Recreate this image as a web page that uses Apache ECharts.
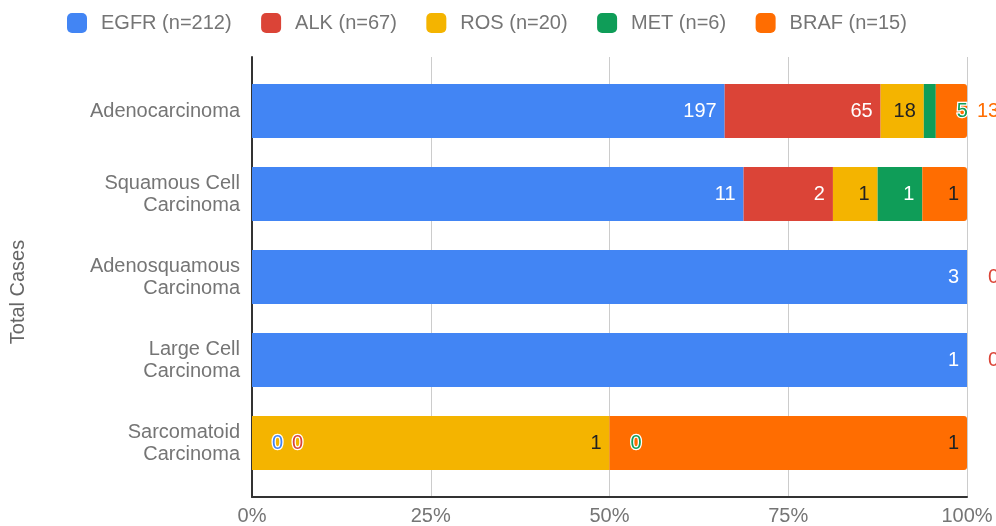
<!DOCTYPE html>
<html>
<head>
<meta charset="utf-8">
<script src="https://cdn.jsdelivr.net/npm/echarts@6/dist/echarts.min.js"></script>
<style>
  html, body { margin: 0; padding: 0; background: #fff; }
  #chart { width: 996px; height: 526px; }
</style>
</head>
<body>
<div id="chart"></div>
<script>
// Mutation counts per histological subtype
const categories = [
  'Adenocarcinoma',
  'Squamous Cell\nCarcinoma',
  'Adenosquamous\nCarcinoma',
  'Large Cell\nCarcinoma',
  'Sarcomatoid\nCarcinoma'
];
const genes = ['EGFR', 'ALK', 'ROS', 'MET', 'BRAF'];
const egfr = [197, 11, 3, 1, 0];
const alk  = [65, 2, 0, 0, 0];
const ros  = [18, 1, 0, 0, 1];
const met  = [5, 1, 0, 0, 0];
const braf = [13, 1, 0, 0, 1];
const xTicks = [0, 25, 50, 75, 100];

const counts = [egfr, alk, ros, met, braf];
const colors = ['#4285F4', '#DB4437', '#F4B400', '#0F9D58', '#FF6D01'];
const insideText = ['#ffffff', '#ffffff', '#222222', '#ffffff', '#222222'];
const font = 'Liberation Sans, Arial, sans-serif';

// Row totals for the 100% stacking
const totals = categories.map((_, i) => counts.reduce((s, arr) => s + arr[i], 0));

// Labels that sit outside their segment (narrow or empty bars): [series, row, distance]
const outsideLabels = [
  [3, 0, 21], [4, 0, 10],
  [0, 4, 20], [1, 4, 40], [3, 4, 21],
  [1, 2, 21], [1, 3, 21]
];
function outsideFor(s, r) {
  const hit = outsideLabels.find(o => o[0] === s && o[1] === r);
  return hit ? hit[2] : null;
}

const series = genes.map((g, s) => ({
  name: `${g} (n=${counts[s].reduce((a, b) => a + b, 0)})`,
  type: 'bar',
  stack: 'total',
  xAxisIndex: 0,
  yAxisIndex: 0,
  barWidth: 54,
  itemStyle: {
    color: colors[s],
    borderRadius: s === genes.length - 1 ? [0, 3, 3, 0] : 0
  },
  data: counts[s].map((v, r) => {
    const item = { value: v / totals[r] * 100, raw: v };
    const dist = outsideFor(s, r);
    if (dist !== null) {
      item.label = {
        show: true, position: 'right', distance: dist,
        color: colors[s], textBorderColor: '#ffffff', textBorderWidth: 2.5
      };
    } else if (v === 0) {
      item.label = { show: false };
    }
    return item;
  }),
  label: {
    show: true,
    position: 'insideRight',
    distance: 8,
    fontSize: 20,
    fontFamily: font,
    color: insideText[s],
    formatter: p => String(p.data.raw)
  }
}));

const chart = echarts.init(document.getElementById('chart'), null, { renderer: 'canvas' });
chart.setOption({
  animation: false,
  backgroundColor: '#ffffff',
  textStyle: { fontFamily: font },
  legend: {
    left: 67,
    top: 13,
    padding: 0,
    itemWidth: 20,
    itemHeight: 20,
    itemGap: 29.5,
    icon: 'roundRect',
    textStyle: { fontSize: 20, color: '#757575', fontFamily: font, padding: [0, 0, 0, 9] },
    data: series.map(s => s.name)
  },
  grid: [
    { left: 252, right: 29, top: 69.5, bottom: 41.5 },
    { left: 252, right: 29, top: 57, bottom: 27 }
  ],
  xAxis: [
    { type: 'value', gridIndex: 0, min: 0, max: 100, show: false },
    {
      type: 'value', gridIndex: 1, min: xTicks[0], max: xTicks[xTicks.length - 1],
      interval: xTicks[1] - xTicks[0],
      axisLine: { show: true, lineStyle: { color: '#333333', width: 2 } },
      axisTick: { show: false },
      splitLine: { show: true, lineStyle: { color: '#cccccc', width: 1 } },
      axisLabel: {
        margin: 9, fontSize: 20, color: '#757575', fontFamily: font,
        formatter: v => v + '%'
      }
    }
  ],
  yAxis: [
    {
      type: 'category', gridIndex: 0, inverse: true, data: categories,
      axisLine: { show: false }, axisTick: { show: false },
      axisLabel: { margin: 12, fontSize: 20, lineHeight: 22, color: '#757575', fontFamily: font, align: 'right' }
    },
    {
      type: 'value', gridIndex: 1, min: 0, max: 1,
      axisLine: { show: true, lineStyle: { color: '#333333', width: 2 } },
      axisTick: { show: false }, axisLabel: { show: false }, splitLine: { show: false }
    }
  ],
  graphic: [{
    type: 'text',
    x: 18, y: 292,
    rotation: Math.PI / 2,
    style: {
      text: 'Total Cases', fontSize: 20, fill: '#666666', fontFamily: font,
      textAlign: 'center', textVerticalAlign: 'middle'
    }
  }],
  series: series
});
</script>
</body>
</html>
